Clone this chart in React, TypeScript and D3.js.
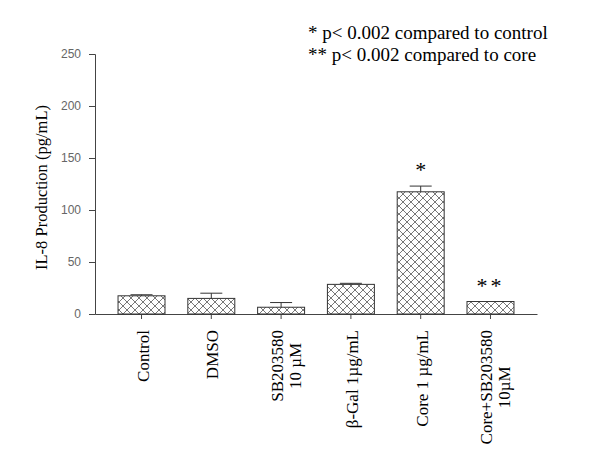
import React, { useEffect, useRef } from 'react'
import { scaleBand, scaleLinear, select, axisLeft, axisBottom } from 'd3'

const categories = ['Control', 'DMSO', 'SB203580\n10 µM', 'β-Gal 1µg/mL', 'Core 1 µg/mL', 'Core+SB203580\n10µM']
const values = [17.5, 15, 6.5, 28.5, 117.5, 12]
const errors = [1, 5, 4.5, 1, 5.5, 0]
const marks = ['', '', '', '', '*', '**']
const yTicks = [0, 50, 100, 150, 200, 250]
const notes = ['* p< 0.002 compared to control', '** p< 0.002 compared to core']

function App() {
  const svgRef = useRef(null)

  const width = 600,
    height = 450,
    margin = { top: 54, right: 63, bottom: 136, left: 95 }

  useEffect(() => {
    const root = select(svgRef.current)
    root.selectAll('*').remove()

    const defs = root.append('defs')
    const pat = defs.append('pattern')
      .attr('id', 'xhatch')
      .attr('patternUnits', 'userSpaceOnUse')
      .attr('width', 8)
      .attr('height', 8)
    pat.append('rect').attr('width', 8).attr('height', 8).attr('fill', '#fff')
    pat.append('path')
      .attr('d', 'M0,0 L8,8 M8,0 L0,8')
      .attr('stroke', '#555')
      .attr('stroke-width', 0.8)

    const svg = root.append('g')
      .attr('transform', `translate(${margin.left}, ${margin.top})`)

    const innerW = width - margin.left - margin.right
    const innerH = height - margin.top - margin.bottom

    // x scale
    const xScale = scaleBand()
      .domain(categories)
      .range([0, innerW])
      .paddingInner(0.327)
      .paddingOuter(0.33)

    // y scale
    const yScale = scaleLinear()
      .domain([0, 250])
      .range([innerH, 0])

    // y axis
    const yAxis = svg.append('g')
      .call(axisLeft(yScale).tickValues(yTicks).tickSize(6).tickPadding(8))
    yAxis.select('.domain').attr('stroke', '#444')
    yAxis.selectAll('line').attr('stroke', '#444')
    yAxis.selectAll('text')
      .attr('fill', '#666')
      .style('font-family', 'Arial, "Liberation Sans", sans-serif')
      .style('font-size', '12px')

    // x axis
    const xAxis = svg.append('g')
      .attr('transform', `translate(0, ${innerH})`)
      .call(axisBottom(xScale).tickSize(5).tickSizeOuter(0).tickFormat(() => ''))
    xAxis.select('.domain').attr('stroke', '#444')
    xAxis.selectAll('line').attr('stroke', '#444')

    // bars
    svg.selectAll('.bar')
      .data(values)
      .enter()
      .append('rect')
      .attr('x', (d, i) => xScale(categories[i]))
      .attr('y', d => yScale(d))
      .attr('width', xScale.bandwidth())
      .attr('height', d => innerH - yScale(d))
      .attr('fill', 'url(#xhatch)')
      .attr('stroke', '#333')
      .attr('stroke-width', 1)

    // error bars (up only)
    values.forEach((v, i) => {
      if (!errors[i]) return
      const cx = xScale(categories[i]) + xScale.bandwidth() / 2
      svg.append('line')
        .attr('x1', cx).attr('x2', cx)
        .attr('y1', yScale(v)).attr('y2', yScale(v + errors[i]))
        .attr('stroke', '#333')
      svg.append('line')
        .attr('x1', cx - 11).attr('x2', cx + 11)
        .attr('y1', yScale(v + errors[i])).attr('y2', yScale(v + errors[i]))
        .attr('stroke', '#333')
    })

    // significance marks
    marks.forEach((m, i) => {
      if (!m) return
      const cx = xScale(categories[i]) + xScale.bandwidth() / 2
      svg.append('text')
        .attr('x', cx)
        .attr('y', yScale(values[i] + errors[i]) - 9)
        .attr('text-anchor', 'middle')
        .style('font-family', '"Liberation Serif", "Times New Roman", serif')
        .style('font-size', '22px')
        .style('letter-spacing', m.length > 1 ? '3px' : '0px')
        .text(m)
    })

    // x labels, rotated
    categories.forEach(c => {
      const lines = c.split('\n')
      const cx = xScale(c) + xScale.bandwidth() / 2
      const g = svg.append('g')
      const texts = lines.map(ln => g.append('text')
        .attr('text-anchor', 'middle')
        .style('font-family', '"Liberation Serif", "Times New Roman", serif')
        .style('font-size', '17px')
        .text(ln))
      const maxW = Math.max(...texts.map(t => t.node().getComputedTextLength()))
      const top = innerH + 16
      texts.forEach((t, k) => {
        const bx = lines.length > 1 ? cx + 2 + k * 18 : cx + 7
        const by = top + maxW / 2
        t.attr('transform', `translate(${bx}, ${by}) rotate(-90)`)
      })
    })

    // y label
    svg.append('text')
      .attr('transform', `translate(${47 - margin.left}, ${innerH / 2 + 3.5}) rotate(-90)`)
      .attr('text-anchor', 'middle')
      .style('font-family', '"Liberation Serif", "Times New Roman", serif')
      .style('font-size', '16.5px')
      .text('IL-8 Production (pg/mL)')

    // notes
    notes.forEach((n, i) => {
      root.append('text')
        .attr('x', 308)
        .attr('y', 39 + i * 22)
        .style('font-family', '"Liberation Serif", "Times New Roman", serif')
        .style('font-size', '19px')
        .text(n)
    })
  }, [])

  return (
    <div>
      <svg ref={svgRef} width={width} height={height}
        style={{ position: 'absolute', left: 0, top: 0, background: '#fff' }}></svg>
    </div>
  )
}

export default App
